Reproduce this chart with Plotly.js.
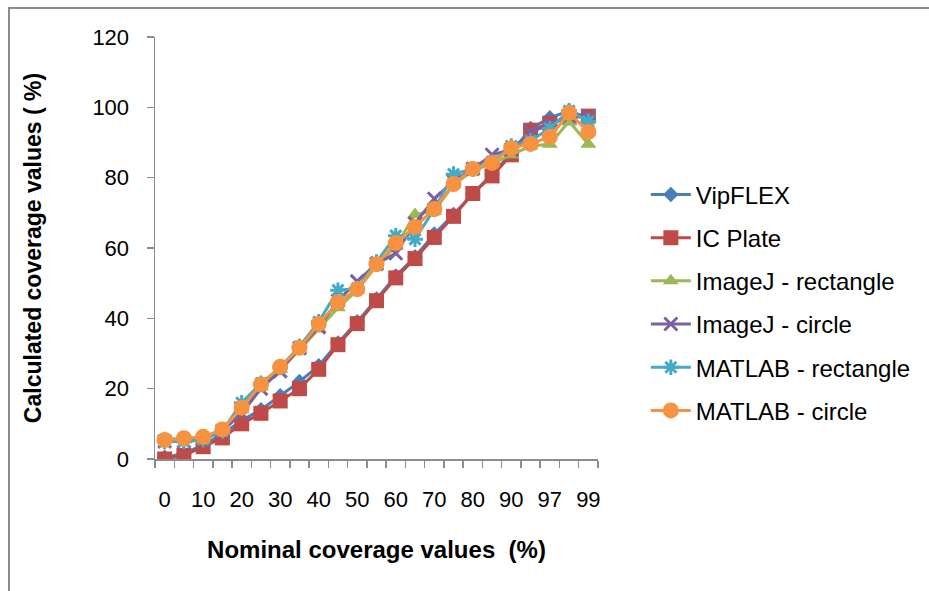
<!DOCTYPE html>
<html>
<head>
<meta charset="utf-8">
<script src="https://cdn.plot.ly/plotly-3.0.1.min.js"></script>
<style>
  html, body { margin: 0; padding: 0; background: #fff; }
  #wrap { position: relative; width: 929px; height: 591px; }
  #chart { position: absolute; left: 0; top: 0; width: 929px; height: 591px; }
  #frame { position: absolute; left: 8px; top: 7px; width: 925px; height: 590px;
           border-left: 2px solid #8c8c8c; border-top: 2px solid #8c8c8c; pointer-events: none; }
</style>
</head>
<body>
<div id="wrap"><div id="chart"></div><div id="frame"></div></div>
<script>
const categories = ["0","5","10","15","20","25","30","35","40","45","50","55","60","65","70","75","80","85","90","95","97","98","99"];
const tickLabels = ["0","","10","","20","","30","","40","","50","","60","","70","","80","","90","","97","","99"];

const vipFlex      = [0.5, 1.5, 4, 7, 11, 14, 18, 22, 26.5, 33, 39, 45.5, 52, 57.5, 64, 69.5, 75.5, 81, 87, 94, 97, 99, 97];
const icPlate      = [0, 1, 3.5, 6, 10, 13, 16.5, 20, 25.5, 32.5, 38.5, 45, 51.5, 57, 63, 69, 75.5, 80.5, 86.5, 93.5, 95.5, 97, 97.5];
const imageJRect   = [6, 5.5, 5.5, 8, 14, 20.5, 25.5, 31, 37, 43, 48, 55, 60.5, 69.5, 70.5, 78, 82, 84, 86.5, 89, 89.5, 96, 89.5];
const imageJCircle = [5, 5, 5.5, 8, 13, 20, 25, 31.5, 37.5, 45, 50.5, 55.5, 58.5, 67, 74, 79, 82.5, 86.5, 88, 93, 95, 97.5, 97.5];
const matlabRect   = [5, 5, 5.5, 8, 16, 21.5, 26, 32, 39, 48, 48.5, 56, 63.5, 62.5, 71, 81, 82.5, 84.5, 89, 90.5, 94, 99, 96];
const matlabCircle = [5.4, 5.9, 6.3, 8.4, 14.6, 21.2, 26.2, 31.6, 38.4, 44.6, 48.3, 55.4, 61.4, 66, 71.1, 78.2, 82.5, 84.2, 88.4, 89.6, 91.6, 98.4, 93];

const seriesNames = ["VipFLEX", "IC Plate", "ImageJ - rectangle", "ImageJ - circle", "MATLAB - rectangle", "MATLAB - circle"];
const seriesData = [vipFlex, icPlate, imageJRect, imageJCircle, matlabRect, matlabCircle];
const colors = ["#4A7EBB", "#BE4B48", "#98B954", "#7D60A0", "#46AAC5", "#F69240"];
const markers = [
  {symbol: "diamond", size: 12},
  {symbol: "square", size: 15},
  {symbol: "triangle-up", size: 14},
  {symbol: "x-thin-open", size: 13, lw: 3},
  {symbol: "asterisk-open", size: 13, lw: 3},
  {symbol: "circle", size: 16}
];

const traces = seriesData.map((ys, i) => {
  const m = markers[i];
  const mk = {symbol: m.symbol, size: m.size, color: colors[i]};
  if (m.lw) mk.line = {width: m.lw, color: colors[i]};
  else mk.line = {width: 0};
  return {
    type: "scatter", mode: "lines+markers",
    x: categories, y: ys, name: seriesNames[i],
    legendgroup: "g" + i,
    line: {color: colors[i], width: 3},
    marker: mk
  };
});

const layout = {
  width: 929, height: 591,
  margin: {l: 155, r: 331, t: 37, b: 132},
  paper_bgcolor: "#ffffff", plot_bgcolor: "#ffffff",
  font: {family: "Liberation Sans, Arial, sans-serif", color: "#000"},
  showlegend: true,
  legend: {
    x: 1.108, xanchor: "left", y: 0.37, yanchor: "middle",
    font: {size: 24, family: "Liberation Sans, Arial, sans-serif", color: "#000"},
    tracegroupgap: 9, itemwidth: 40, bgcolor: "rgba(0,0,0,0)"
  },
  xaxis: {
    type: "category",
    categoryorder: "array", categoryarray: categories,
    range: [-0.5, 22.5], autorange: false,
    tickmode: "array", tickvals: categories, ticktext: tickLabels,
    tickson: "boundaries", tickangle: 0,
    ticks: "outside", ticklen: 7, tickcolor: "#8c8c8c", tickwidth: 1.5,
    showline: true, linecolor: "#8c8c8c", linewidth: 1.5,
    showgrid: false, zeroline: false,
    tickfont: {size: 22, family: "Liberation Sans, Arial, sans-serif"},
    ticklabelstandoff: 20,
    title: {text: "Nominal coverage values  (%)", font: {size: 24, family: "Liberation Sans, Arial, sans-serif", weight: "bold"}, standoff: 30}
  },
  yaxis: {
    range: [0, 120], tickmode: "linear", tick0: 0, dtick: 20,
    ticks: "outside", ticklen: 7, tickcolor: "#8c8c8c", tickwidth: 1.5,
    showline: true, linecolor: "#8c8c8c", linewidth: 1.5,
    showgrid: false, zeroline: false,
    tickfont: {size: 22, family: "Liberation Sans, Arial, sans-serif"},
    ticklabelstandoff: 13,
    title: {text: "Calculated coverage values ( %)", font: {size: 23, family: "Liberation Sans, Arial, sans-serif", weight: "bold"}, standoff: 44}
  }
};

Plotly.newPlot("chart", traces, layout, {displayModeBar: false, staticPlot: true});
</script>
</body>
</html>
